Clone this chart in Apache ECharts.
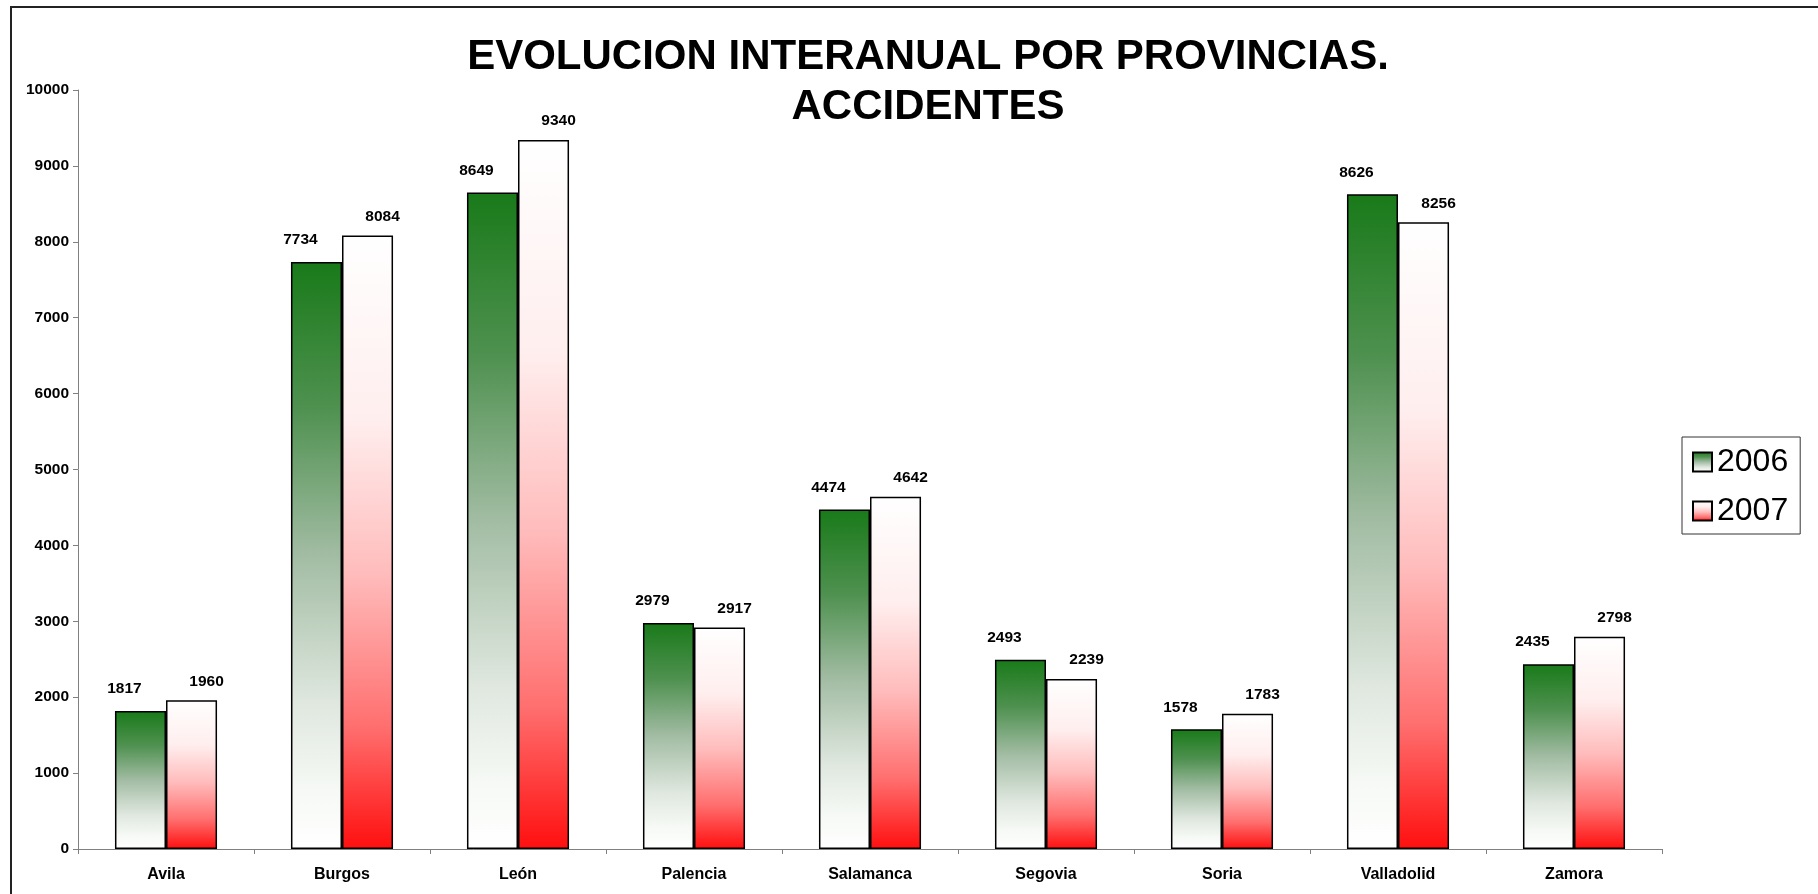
<!DOCTYPE html>
<html>
<head>
<meta charset="utf-8">
<title>Evolucion interanual por provincias. Accidentes</title>
<script src="https://cdn.jsdelivr.net/npm/echarts@6/dist/echarts.min.js"></script>
<style>
  html, body { margin: 0; padding: 0; background: #fff; }
  #chart { width: 1818px; height: 894px; }
</style>
</head>
<body>
<div id="chart"></div>
<script>
// datos
var provincias = ['Avila', 'Burgos', 'León', 'Palencia', 'Salamanca', 'Segovia', 'Soria', 'Valladolid', 'Zamora'];
var accidentes2006 = [1817, 7734, 8649, 2979, 4474, 2493, 1578, 8626, 2435];
var accidentes2007 = [1960, 8084, 9340, 2917, 4642, 2239, 1783, 8256, 2798];
var ejeY = { min: 0, max: 10000, interval: 1000 };

var fuente = "'Liberation Sans', Arial, sans-serif";

// degradados de las barras (verde arriba / rojo abajo)
var verde = new echarts.graphic.LinearGradient(0, 0, 0, 1, [
  { offset: 0, color: '#197a19' },
  { offset: 0.25, color: '#4f9150' },
  { offset: 0.5, color: '#a2bca3' },
  { offset: 0.75, color: '#dfe7df' },
  { offset: 0.9, color: '#f6f9f5' },
  { offset: 1, color: '#ffffff' }
]);
var rojo = new echarts.graphic.LinearGradient(0, 0, 0, 1, [
  { offset: 0, color: '#ffffff' },
  { offset: 0.3, color: '#ffeeee' },
  { offset: 0.55, color: '#ffbcbc' },
  { offset: 0.8, color: '#ff6f6f' },
  { offset: 1, color: '#ff0f0f' }
]);

var chart = echarts.init(document.getElementById('chart'));

var option = {
  backgroundColor: '#fff',
  animation: false,
  textStyle: { fontFamily: fuente },
  title: {
    text: 'EVOLUCION INTERANUAL POR PROVINCIAS.\nACCIDENTES',
    left: 923,
    top: 27,
    textAlign: 'center',
    textStyle: {
      fontFamily: fuente,
      fontSize: 42,
      fontWeight: 'bold',
      color: '#000',
      lineHeight: 50
    }
  },
  legend: {
    orient: 'vertical',
    left: 1682,
    top: 437,
    padding: [9, 12, 7, 10],
    itemGap: 17,
    itemWidth: 19,
    itemHeight: 19,
    itemTextGap: 15,
    borderColor: '#333',
    borderWidth: 1,
    textStyle: { fontFamily: fuente, fontSize: 32, color: '#000' },
    data: [
      { name: '2006', icon: 'rect' },
      { name: '2007', icon: 'rect' }
    ]
  },
  grid: {
    left: 78,
    right: 156,
    top: 90,
    bottom: 45
  },
  xAxis: {
    type: 'category',
    data: provincias,
    axisLine: { lineStyle: { color: '#808080', width: 1 } },
    axisTick: { show: true, alignWithLabel: false, length: 5, lineStyle: { color: '#808080' } },
    axisLabel: {
      margin: 18,
      fontFamily: fuente,
      fontSize: 16,
      fontWeight: 'bold',
      color: '#000'
    }
  },
  yAxis: {
    type: 'value',
    min: ejeY.min,
    max: ejeY.max,
    interval: ejeY.interval,
    splitLine: { show: false },
    axisLine: { show: true, lineStyle: { color: '#808080', width: 1 } },
    axisTick: { show: true, length: 5, lineStyle: { color: '#808080' } },
    axisLabel: {
      margin: 9,
      fontFamily: fuente,
      fontSize: 15.5,
      fontWeight: 'bold',
      color: '#000',
      formatter: function (v) { return String(v); }
    }
  },
  series: [
    {
      name: '2006',
      type: 'bar',
      data: accidentes2006,
      barGap: '0%',
      barCategoryGap: '42%',
      itemStyle: { color: verde, borderColor: '#000', borderWidth: 1.5 },
      label: {
        show: true,
        position: 'top',
        distance: 14,
        offset: [-16, 0],
        fontFamily: fuente,
        fontSize: 15.5,
        fontWeight: 'bold',
        color: '#000'
      }
    },
    {
      name: '2007',
      type: 'bar',
      data: accidentes2007,
      barGap: '0%',
      barCategoryGap: '42%',
      itemStyle: { color: rojo, borderColor: '#000', borderWidth: 1.5 },
      label: {
        show: true,
        position: 'top',
        distance: 11,
        offset: [15, 0],
        fontFamily: fuente,
        fontSize: 15.5,
        fontWeight: 'bold',
        color: '#000'
      }
    }
  ],
  graphic: [
    {
      // marco del grafico
      type: 'rect',
      silent: true,
      shape: { x: 11, y: 7, width: 1830, height: 920 },
      style: { fill: null, stroke: '#222', lineWidth: 2 }
    }
  ]
};

chart.setOption(option);
</script>
</body>
</html>
